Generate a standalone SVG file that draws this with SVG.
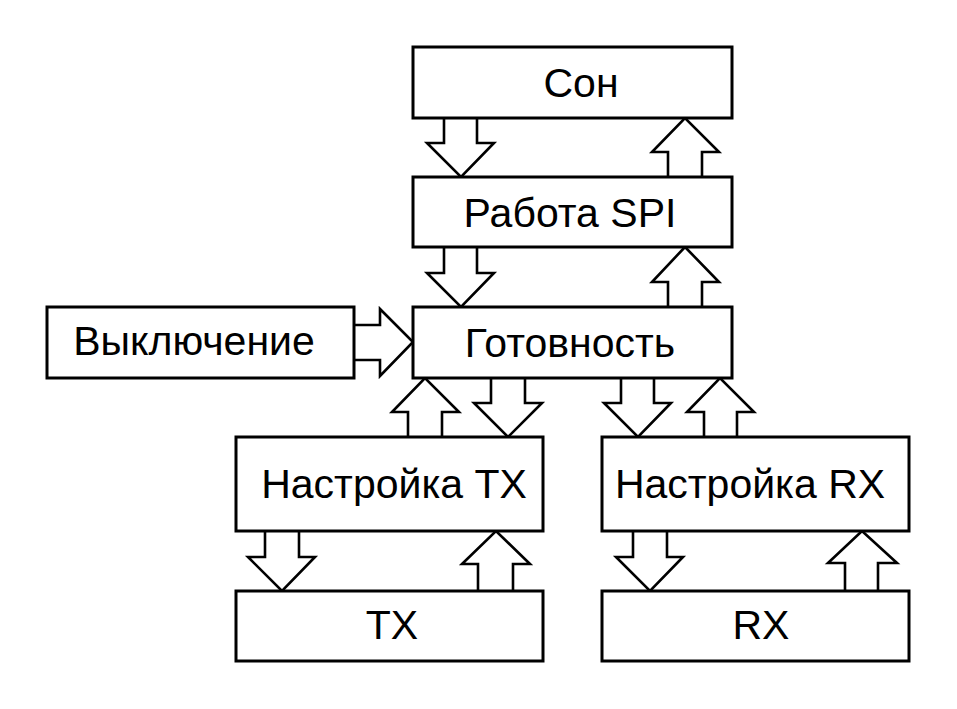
<svg xmlns="http://www.w3.org/2000/svg" width="957" height="709" viewBox="0 0 957 709">
  <style>
    .box { fill: #fff; stroke: #000; stroke-width: 3; }
    .arr { fill: #fff; stroke: #000; stroke-width: 2.6; stroke-linejoin: miter; }
    .lbl { font-family: "Liberation Sans", Arial, sans-serif; font-size: 41px; fill: #000; text-anchor: middle; }
  </style>
  <rect width="957" height="709" fill="#fff"/>

  <!-- block arrows between states -->
  <g id="connectors">
    <!-- Сон -> Работа SPI -->
    <path class="arr" d="M444,118 V143 H427 L461,177 L494,143 H477 V118"/>
    <!-- Работа SPI -> Сон -->
    <path class="arr" d="M668,177 V152 H652 L685,118 L719,152 H702 V177"/>
    <!-- Работа SPI -> Готовность -->
    <path class="arr" d="M444,247 V273 H427 L461,307 L494,273 H477 V247"/>
    <!-- Готовность -> Работа SPI -->
    <path class="arr" d="M668,307 V282 H652 L685,247 L719,282 H702 V307"/>
    <!-- Выключение -> Готовность -->
    <path class="arr" d="M354,325 H380 V309 L413,342 L380,376 V360 H354"/>
    <!-- Настройка TX -> Готовность -->
    <path class="arr" d="M408,437 V412 H392 L425,378 L459,412 H442 V437"/>
    <!-- Готовность -> Настройка TX -->
    <path class="arr" d="M491,378 V403 H474 L508,437 L542,403 H525 V378"/>
    <!-- Готовность -> Настройка RX -->
    <path class="arr" d="M621,378 V403 H604 L638,437 L671,403 H654 V378"/>
    <!-- Настройка RX -> Готовность -->
    <path class="arr" d="M704,437 V412 H687 L720,378 L754,412 H737 V437"/>
    <!-- Настройка TX -> TX -->
    <path class="arr" d="M265,531 V557 H248 L282,591 L315,557 H299 V531"/>
    <!-- TX -> Настройка TX -->
    <path class="arr" d="M478,591 V564 H462 L496,531 L530,564 H513 V591"/>
    <!-- Настройка RX -> RX -->
    <path class="arr" d="M633,531 V557 H616 L650,591 L683,557 H667 V531"/>
    <!-- RX -> Настройка RX -->
    <path class="arr" d="M845,591 V563 H828 L862,531 L897,563 H878 V591"/>
  </g>

  <g id="son">
    <rect class="box" x="413" y="47" width="319" height="71"/>
    <text class="lbl" x="581" y="97">Сон</text>
  </g>
  <g id="spi">
    <rect class="box" x="413" y="177" width="319" height="70"/>
    <text class="lbl" x="570" y="227">Работа SPI</text>
  </g>
  <g id="ready">
    <rect class="box" x="413" y="307" width="319" height="71"/>
    <text class="lbl" x="570" y="357">Готовность</text>
  </g>
  <g id="off">
    <rect class="box" x="47" y="307" width="307" height="71"/>
    <text class="lbl" x="194" y="355">Выключение</text>
  </g>
  <g id="tx-setup">
    <rect class="box" x="236" y="437" width="307" height="94"/>
    <text class="lbl" x="394" y="498">Настройка TX</text>
  </g>
  <g id="rx-setup">
    <rect class="box" x="602" y="437" width="307" height="94"/>
    <text class="lbl" x="750" y="498">Настройка RX</text>
  </g>
  <g id="tx">
    <rect class="box" x="236" y="591" width="307" height="70"/>
    <text class="lbl" x="392" y="639">TX</text>
  </g>
  <g id="rx">
    <rect class="box" x="602" y="591" width="307" height="70"/>
    <text class="lbl" x="761" y="639">RX</text>
  </g>
</svg>
